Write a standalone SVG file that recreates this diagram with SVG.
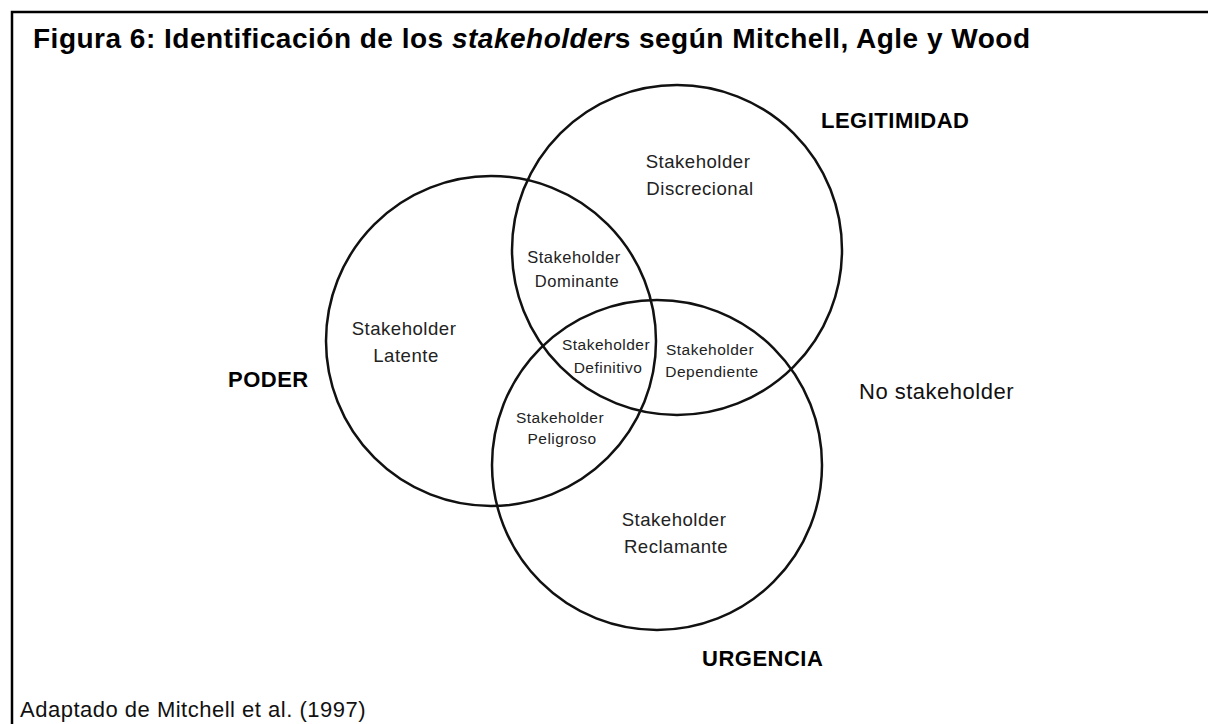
<svg xmlns="http://www.w3.org/2000/svg" width="1208" height="724" viewBox="0 0 1208 724">
<style>
  text { font-family: "Liberation Sans", Arial, sans-serif; }
  .circle { fill: none; stroke: #111; stroke-width: 2.5; }
  .lbl { fill: #222; text-anchor: middle; letter-spacing: 0.5px; }
  .lg { font-size: 18.6px; }
  .md { font-size: 16.5px; }
  .sm { font-size: 15.5px; }
  .set { font-weight: bold; font-size: 22px; fill: #000; letter-spacing: 0.5px; }
  .title { font-weight: bold; font-size: 28px; fill: #000; letter-spacing: 0.5px; }
  .plain { font-size: 22px; fill: #111; letter-spacing: 0.5px; }
</style>
<rect x="0" y="0" width="1208" height="724" fill="#ffffff"/>
<rect id="frame" x="12" y="12" width="1210" height="730" fill="none" stroke="#000" stroke-width="2.5"/>
<text id="title" class="title" x="33" y="48">Figura 6: Identificación de los <tspan font-style="italic">stakeholder</tspan>s según Mitchell, Agle y Wood</text>
<g id="connectors"></g>
<g id="poder">
  <circle class="circle" cx="491" cy="341" r="165"/>
  <text class="set" x="228" y="387">PODER</text>
</g>
<g id="legitimidad">
  <circle class="circle" cx="677" cy="250" r="165"/>
  <text class="set" x="821" y="128">LEGITIMIDAD</text>
</g>
<g id="urgencia">
  <circle class="circle" cx="657" cy="465" r="165"/>
  <text class="set" x="702" y="666">URGENCIA</text>
</g>
<g id="discrecional">
  <text class="lbl lg" x="698" y="168">Stakeholder</text>
  <text class="lbl lg" x="700" y="195">Discrecional</text>
</g>
<g id="dominante">
  <text class="lbl md" x="574" y="263">Stakeholder</text>
  <text class="lbl md" x="577" y="287">Dominante</text>
</g>
<g id="latente">
  <text class="lbl lg" x="404" y="335">Stakeholder</text>
  <text class="lbl lg" x="406" y="362">Latente</text>
</g>
<g id="definitivo">
  <text class="lbl sm" x="606" y="350">Stakeholder</text>
  <text class="lbl sm" x="608" y="373">Definitivo</text>
</g>
<g id="dependiente">
  <text class="lbl sm" x="710" y="355">Stakeholder</text>
  <text class="lbl sm" x="712" y="377">Dependiente</text>
</g>
<g id="peligroso">
  <text class="lbl sm" x="560" y="423">Stakeholder</text>
  <text class="lbl sm" x="562" y="444">Peligroso</text>
</g>
<g id="reclamante">
  <text class="lbl lg" x="674" y="526">Stakeholder</text>
  <text class="lbl lg" x="676" y="553">Reclamante</text>
</g>
<g id="no-stakeholder">
  <text class="plain" x="859" y="399">No stakeholder</text>
</g>
<text id="source" class="plain" x="20" y="717">Adaptado de Mitchell et al. (1997)</text>
</svg>
